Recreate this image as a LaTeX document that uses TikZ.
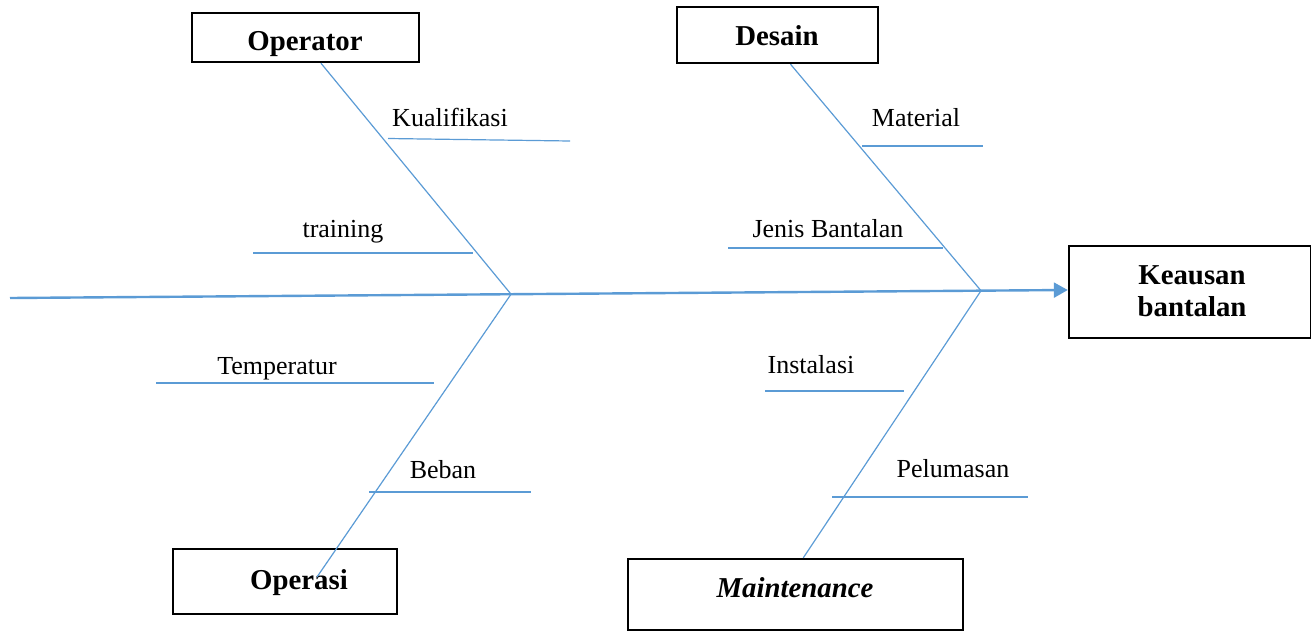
\documentclass[tikz,border=0pt]{standalone}
\usepackage{fontspec}
\setmainfont{Liberation Serif}
\usetikzlibrary{arrows.meta}

\definecolor{fishblue}{HTML}{5B9BD5}

\tikzset{
  box/.style={draw, line width=1.2pt, rectangle, inner sep=0pt},
  head/.style={anchor=base, inner sep=0pt, font=\fontsize{14.4}{16}\selectfont\bfseries},
  cause/.style={anchor=base, inner sep=0pt, font=\fontsize{13}{15}\selectfont},
  bone/.style={fishblue, line width=0.6pt},
  spine/.style={fishblue, line width=1.2pt}
}

\begin{document}
\begin{tikzpicture}[x=0.5pt, y=-0.5pt, >={Triangle[length=7pt,width=7.5pt]}]
  \useasboundingbox (0,0) rectangle (1311,632);

  \node[box, minimum width=113.5pt, minimum height=24.5pt] (operator) at (305.5,37.5) {};
  \node[box, minimum width=100.5pt, minimum height=28pt] (desain) at (777.5,35) {};
  \node[box, minimum width=112pt, minimum height=32.5pt] (operasi) at (285,581.5) {};
  \node[box, minimum width=167.5pt, minimum height=35.5pt] (maint) at (795.5,594.5) {};
  \node[box, minimum width=121pt, minimum height=46pt] (keausan) at (1190,292) {};

  \node[head] (operator-txt) at (305,50) {Operator};
  \node[head] (desain-txt) at (777,45) {Desain};
  \node[head] (operasi-txt) at (299,589) {Operasi};
  \node[head] (maint-txt) at (795,597) {\textit{Maintenance}};
  \node[head, anchor=center, align=center] (keausan-txt) at (1192,291) {Keausan\\bantalan};

  \coordinate (tail) at (10,298);
  \coordinate (j1) at (511,294.2);
  \coordinate (j2) at (981,290.7);
  \coordinate (opend) at (317,577);

  \draw[spine, ->] (tail) -- ([yshift=1pt]keausan.west);

  \draw[bone] (operator.-59) -- (j1);
  \draw[bone] (j1) -- (opend);
  \draw[bone] (desain.-66) -- (j2);
  \draw[bone] (j2) -- (maint.78);

  \foreach \xa/\xb/\ya/\yb in {388/570/138.5/141, 253/473/253/253, 156/434/383/383, 369/531/492/492,
                               862/983/146/146, 728/943/248/248, 765/904/391/391, 832/1028/497/497}
    \draw[bone] (\xa,\ya) -- (\xb,\yb);

  \foreach \x/\y/\nm/\txt in {450/126/kualifikasi/Kualifikasi, 343/237/training/training,
                              277/374/temperatur/Temperatur, 443/478/beban/Beban,
                              916/126/material/Material, 828/237/jenis/Jenis Bantalan,
                              811/373/instalasi/Instalasi, 953/477/pelumasan/Pelumasan}
    \node[cause] (\nm) at (\x,\y) {\txt};
\end{tikzpicture}
\end{document}
